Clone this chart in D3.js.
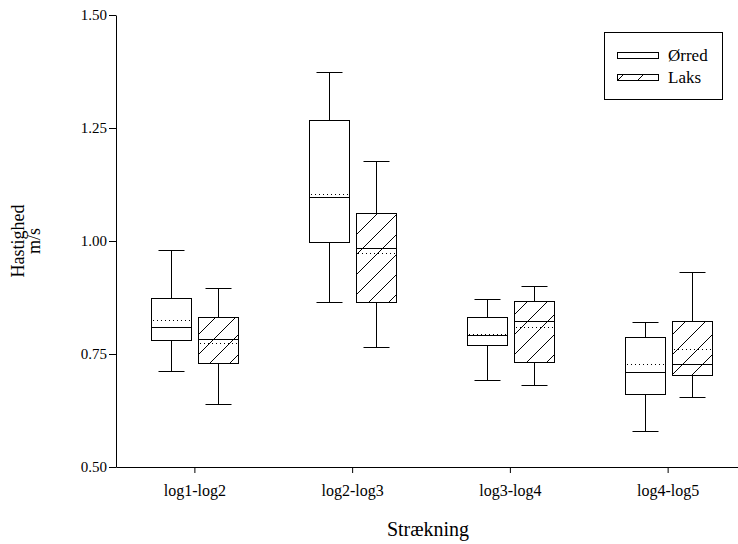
<!DOCTYPE html>
<html>
<head>
<meta charset="utf-8">
<script src="https://cdn.jsdelivr.net/npm/d3@7"></script>
<style>
  body { margin: 0; background: #fff; }
  svg, svg text { font-family: "Liberation Serif", "Times New Roman", Times, serif; fill: #000; }
</style>
</head>
<body>
<div id="chart"></div>
<script>
  // data
  var categories = ["log1-log2", "log2-log3", "log3-log4", "log4-log5"];
  var series = ["Ørred", "Laks"];
  var yTicks = [0.50, 0.75, 1.00, 1.25, 1.50];

  var orredLow    = [0.713, 0.864, 0.692, 0.580];
  var orredQ1     = [0.781, 0.998, 0.769, 0.661];
  var orredMedian = [0.810, 1.098, 0.791, 0.711];
  var orredMean   = [0.825, 1.103, 0.795, 0.727];
  var orredQ3     = [0.875, 1.268, 0.831, 0.787];
  var orredHigh   = [0.979, 1.374, 0.871, 0.821];

  var laksLow    = [0.639, 0.765, 0.681, 0.654];
  var laksQ1     = [0.729, 0.866, 0.732, 0.703];
  var laksMedian = [0.784, 0.984, 0.822, 0.727];
  var laksMean   = [0.774, 0.974, 0.810, 0.762];
  var laksQ3     = [0.832, 1.063, 0.868, 0.824];
  var laksHigh   = [0.897, 1.178, 0.900, 0.932];

  // build a flat table of boxes
  var boxes = [];
  categories.forEach(function(c, i) {
    boxes.push({cat: c, s: "Ørred", low: orredLow[i], q1: orredQ1[i], med: orredMedian[i],
                mean: orredMean[i], q3: orredQ3[i], high: orredHigh[i]});
    boxes.push({cat: c, s: "Laks", low: laksLow[i], q1: laksQ1[i], med: laksMedian[i],
                mean: laksMean[i], q3: laksQ3[i], high: laksHigh[i]});
  });

  var serif = "Liberation Serif";
  var margin = {top: 15, left: 116},
      width = 631,
      height = 452;

  var svg = d3.select("#chart")
    .append("svg")
      .attr("width", 738)
      .attr("height", 544)
      .attr("font-family", serif);

  // hatch pattern for Laks
  svg.append("defs").append("pattern")
      .attr("id", "hatch")
      .attr("patternUnits", "userSpaceOnUse")
      .attr("width", 20)
      .attr("height", 20)
    .append("path")
      .attr("d", "M0,20 L20,0 M-5,5 L5,-5 M15,25 L25,15")
      .attr("stroke", "#000")
      .attr("stroke-width", 1);

  var g = svg.append("g")
      .attr("transform", "translate(" + margin.left + "," + margin.top + ")");

  var x = d3.scaleBand()
      .domain(categories)
      .range([0, width]);

  var bw = x.bandwidth();
  var xs = d3.scaleBand()
      .domain(series)
      .range([bw / 2 - 43.5, bw / 2 + 43.5])
      .paddingInner(7 / 47);

  var y = d3.scaleLinear()
      .domain([0.5, 1.5])
      .range([height, 0]);

  // axes
  var yAxis = g.append("g")
      .call(d3.axisLeft(y).tickValues(yTicks).tickFormat(d3.format(".2f")).tickSizeInner(7).tickSizeOuter(0).tickPadding(2));
  yAxis.attr("font-family", serif).attr("font-size", 15);
  yAxis.selectAll("line, path").attr("stroke", "#000");

  var xAxis = g.append("g")
      .attr("transform", "translate(0," + height + ")")
      .call(d3.axisBottom(x).tickSizeInner(6).tickSizeOuter(0).tickPadding(12));
  xAxis.attr("font-family", serif).attr("font-size", 16);
  xAxis.selectAll("line, path").attr("stroke", "#000");

  // box plots
  var bx = xs.bandwidth();
  var capW = 26;
  var bg = g.selectAll(".box")
    .data(boxes)
    .enter()
    .append("g")
      .attr("class", "box")
      .attr("transform", function(d) { return "translate(" + Math.round(x(d.cat) + xs(d.s)) + ",0)"; });

  function py(v) { return Math.round(y(v)) + 0.5; }
  var cx = Math.round(bx / 2) + 0.5;

  // whiskers
  bg.append("line")
      .attr("x1", cx).attr("x2", cx)
      .attr("y1", function(d) { return py(d.high); })
      .attr("y2", function(d) { return py(d.q3); })
      .attr("stroke", "#000");
  bg.append("line")
      .attr("x1", cx).attr("x2", cx)
      .attr("y1", function(d) { return py(d.q1); })
      .attr("y2", function(d) { return py(d.low); })
      .attr("stroke", "#000");
  bg.append("line")
      .attr("x1", cx - capW / 2).attr("x2", cx + capW / 2)
      .attr("y1", function(d) { return py(d.high); })
      .attr("y2", function(d) { return py(d.high); })
      .attr("stroke", "#000");
  bg.append("line")
      .attr("x1", cx - capW / 2).attr("x2", cx + capW / 2)
      .attr("y1", function(d) { return py(d.low); })
      .attr("y2", function(d) { return py(d.low); })
      .attr("stroke", "#000");

  // box
  bg.append("rect")
      .attr("x", 0.5)
      .attr("width", Math.round(bx))
      .attr("y", function(d) { return py(d.q3); })
      .attr("height", function(d) { return py(d.q1) - py(d.q3); })
      .attr("fill", function(d) { return d.s == "Laks" ? "url(#hatch)" : "#fff"; })
      .attr("stroke", "#000");

  // median
  bg.append("line")
      .attr("x1", 0.5).attr("x2", Math.round(bx) + 0.5)
      .attr("y1", function(d) { return py(d.med); })
      .attr("y2", function(d) { return py(d.med); })
      .attr("stroke", "#000");

  // mean (dotted)
  bg.append("line")
      .attr("x1", 2).attr("x2", Math.round(bx))
      .attr("y1", function(d) { return py(d.mean); })
      .attr("y2", function(d) { return py(d.mean); })
      .attr("stroke", "#000")
      .attr("stroke-dasharray", "1,3");

  // axis titles
  svg.append("text")
      .attr("transform", "translate(24," + (margin.top + height / 2) + ") rotate(-90)")
      .attr("text-anchor", "middle")
      .attr("font-size", 18)
      .text("Hastighed");
  svg.append("text")
      .attr("transform", "translate(40," + (margin.top + height / 2) + ") rotate(-90)")
      .attr("text-anchor", "middle")
      .attr("font-size", 18)
      .text("m/s");
  svg.append("text")
      .attr("x", 428)
      .attr("y", 536)
      .attr("text-anchor", "middle")
      .attr("font-size", 20)
      .text("Strækning");

  // legend
  var legend = svg.append("g")
      .attr("transform", "translate(604,32)");
  legend.append("rect")
      .attr("x", 0.5).attr("y", 0.5)
      .attr("width", 118).attr("height", 67)
      .attr("fill", "#fff")
      .attr("stroke", "#000");
  var items = legend.selectAll(".item")
    .data(series)
    .enter()
    .append("g")
      .attr("class", "item")
      .attr("transform", function(d, i) { return "translate(0," + (20 + i * 22) + ")"; });
  items.append("rect")
      .attr("x", 13.5).attr("y", 0.5)
      .attr("width", 41).attr("height", 6)
      .attr("fill", function(d) { return d == "Laks" ? "url(#hatch)" : "#fff"; })
      .attr("stroke", "#000");
  items.append("text")
      .attr("x", 64)
      .attr("y", 9)
      .attr("font-size", 17)
      .text(function(d) { return d; });
</script>
</body>
</html>
